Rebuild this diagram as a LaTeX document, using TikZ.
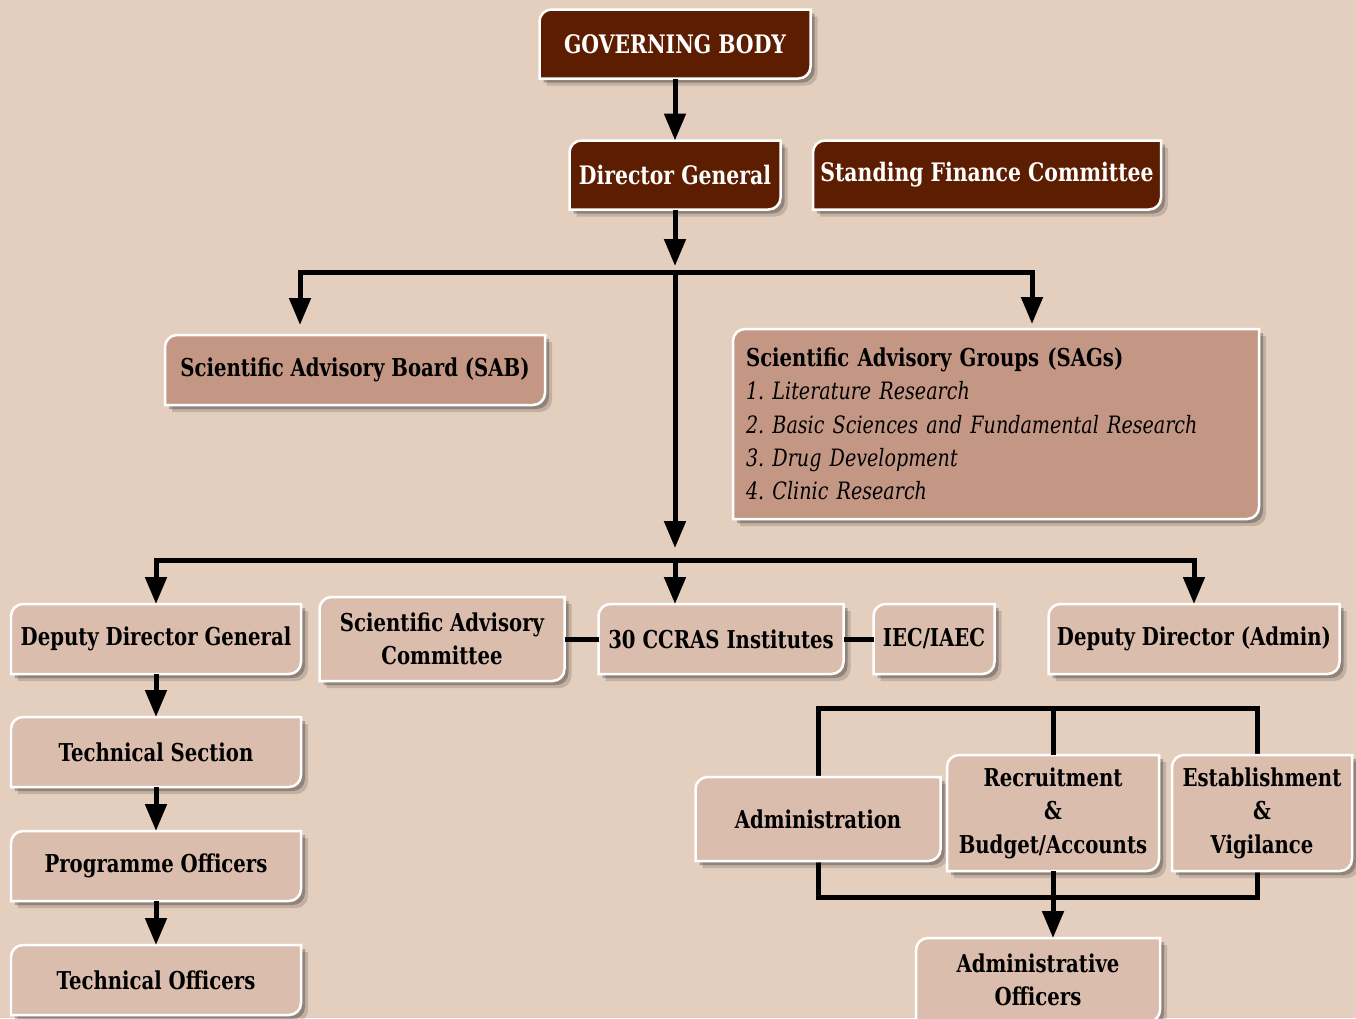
\documentclass[tikz,border=0pt]{standalone}
\usepackage{fontspec}
\setmainfont{DejaVu Serif}[FakeStretch=0.8]
\usetikzlibrary{arrows.meta,backgrounds}
\frenchspacing

\definecolor{paper}{HTML}{E4CFBF}
\definecolor{darkbrown}{HTML}{5C1D00}
\definecolor{midbrown}{HTML}{C49785}
\definecolor{lightbrown}{HTML}{DBBDAD}

\begin{document}
\begin{tikzpicture}[
    x = 0.02cm,
    y = -0.02cm,
    >={Triangle[length=0.54cm,width=0.42cm]},
    link/.style = {line width=0.1cm, black},
    unit/.style = {inner sep=0pt, outer sep=0pt, align=center,
              font=\bfseries\fontsize{14}{19}\selectfont},
    head/.style = {unit, text=white, font=\bfseries\fontsize{14.5}{19}\selectfont},
    dims/.style 2 args = {minimum width=#1*0.02cm, minimum height=#2*0.02cm},
    card path/.style = {insert path={
        ([xshift=0.24cm]#1.north west) -- (#1.north east)
        -- ([yshift=0.24cm]#1.south east)
        arc[start angle=0, end angle=-90, radius=0.24cm]
        -- (#1.south west) -- ([yshift=-0.24cm]#1.north west)
        arc[start angle=180, end angle=90, radius=0.24cm] -- cycle}},
    ]

\useasboundingbox (0,0) rectangle (1356,1018);

% top of the chart
\node[head, dims={271}{69}] (gov_body) at (675,44) {GOVERNING BODY};
\node[head, dims={211}{69}] (dir_gen) at (675,175) {Director General};
\node[head, dims={348}{69}] (fin_comm) at (987,175) {Standing Finance Committee};

% advisory bodies
\node[unit, dims={380}{70}] (sab) at (355,370) {Scientific Advisory Board (SAB)};
\node[unit, dims={526}{190}, text width=10cm, align=left,
      font=\fontsize{14}{19}\selectfont] (sags) at (996,424)
     {\textbf{Scientific Advisory Groups (SAGs)}\\
      \fontsize{13.6}{19}\selectfont
      \textit{1. Literature Research}\\
      \textit{2. Basic Sciences and Fundamental Research}\\
      \textit{3. Drug Development}\\
      \textit{4. Clinic Research}};

% second level
\node[unit, dims={290}{70}] (dep_dg) at (156,639) {Deputy Director General};
\node[unit, dims={245}{84}] (sac) at (442,639) {Scientific Advisory\\Committee};
\node[unit, dims={245}{70}] (ccras) at (721,639) {30 CCRAS Institutes};
\node[unit, dims={121}{70}] (iec) at (934,639) {IEC/IAEC};
\node[unit, dims={291}{70}] (dep_admin) at (1194,639) {Deputy Director (Admin)};

% technical side
\node[unit, dims={290}{70}] (tech_sec) at (156,752) {Technical Section};
\node[unit, dims={290}{70}] (prog_off) at (156,866) {Programme Officers};
\node[unit, dims={290}{70}] (tech_off) at (156,980) {Technical Officers};

% admin side
\node[unit, dims={245}{84}] (admin) at (818,819) {Administration};
\node[unit, dims={212}{116}] (recruit) at (1053,813) {Recruitment\\\&\\Budget/Accounts};
\node[unit, dims={180}{116}] (estab) at (1262,813) {Establishment\\\&\\Vigilance};
\node[unit, dims={244}{84}] (admin_off) at (1038,980) {Administrative\\Officers};

\coordinate (frame_nw) at (818,708);
\coordinate (frame_se) at (1257,897);
\coordinate (split_top) at (675,272);
\coordinate (split_mid) at (675,560);

\begin{pgfonlayer}{background}
\fill[paper] (0,0) rectangle (1356,1018);
\draw[link] (frame_nw) rectangle (frame_se);
\foreach \n/\c in {gov_body/darkbrown, dir_gen/darkbrown, fin_comm/darkbrown,
    sab/midbrown, sags/midbrown, dep_dg/lightbrown, sac/lightbrown,
    ccras/lightbrown, iec/lightbrown, dep_admin/lightbrown, tech_sec/lightbrown,
    prog_off/lightbrown, tech_off/lightbrown, admin/lightbrown,
    recruit/lightbrown, estab/lightbrown, admin_off/lightbrown}{
  \fill[black, opacity=0.15, transform canvas={shift={(0.14cm,-0.14cm)}}, card path=\n];
  \fill[black, opacity=0.25, transform canvas={shift={(0.08cm,-0.08cm)}}, card path=\n];
  \filldraw[fill=\c, draw=white, line width=0.05cm, card path=\n];
}
\end{pgfonlayer}

% connectors
\draw[link, ->] (gov_body) -- (dir_gen);
\draw[link, ->, shorten >=0.12cm] (dir_gen) -- (split_top);
\draw[link, ->, shorten >=0.2cm] (split_top) -| ([xshift=-1.1cm]sab.north);
\draw[link, ->, shorten >=0.1cm] (split_top) -| ([xshift=0.72cm]sags.north);
\draw[link, ->, shorten >=0.24cm] (split_top) -- (split_mid);
\draw[link, ->] (split_mid) -| (dep_dg);
\draw[link, ->] (split_mid) -- (split_mid |- ccras.north);
\draw[link, ->] (split_mid) -| (dep_admin);
\draw[link] (sac) -- (ccras);
\draw[link] (ccras) -- (iec);
\draw[link, ->] (dep_dg) -- (tech_sec);
\draw[link, ->] (tech_sec) -- (prog_off);
\draw[link, ->] (prog_off) -- (tech_off);
\draw[link] (recruit.north |- frame_nw) -- (recruit.north);
\draw[link, ->] (recruit.south) -- (recruit.south |- admin_off.north);

\end{tikzpicture}
\end{document}
